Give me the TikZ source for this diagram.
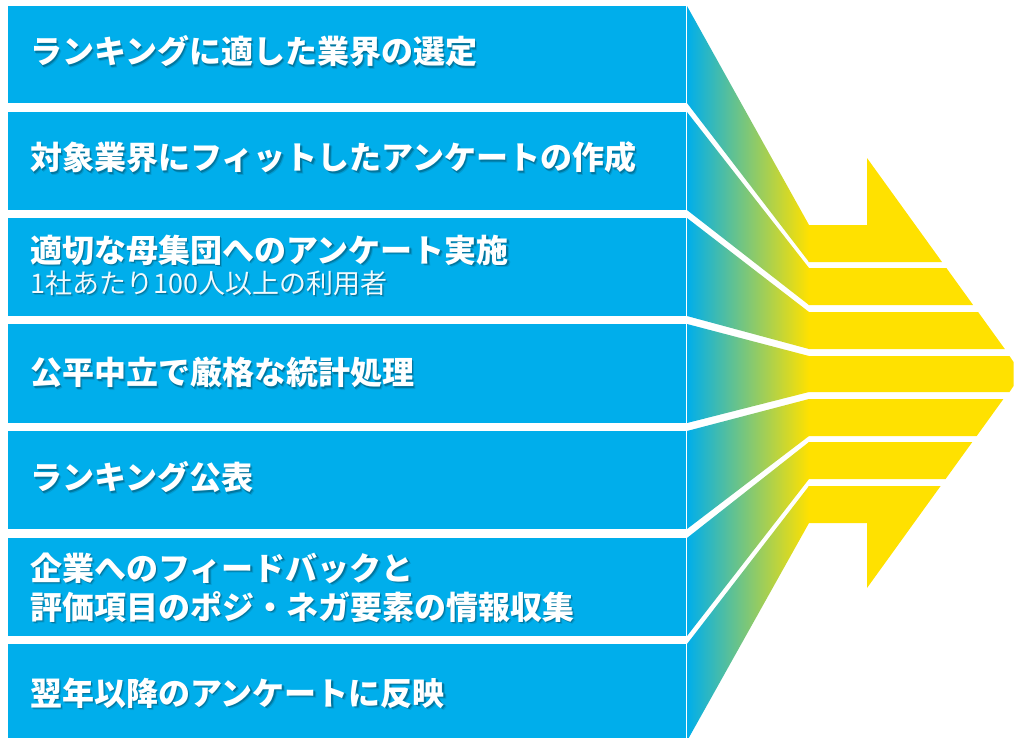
\documentclass[tikz,border=0pt]{standalone}
\usepackage{fontspec}
\newfontfamily\jp{Noto Sans CJK JP}
\definecolor{boxblue}{HTML}{00AEEB}
\definecolor{arrowyellow}{HTML}{FFE100}
\tikzset{
  stepbox/.style={fill=boxblue, draw=none, inner sep=0pt, anchor=north west, minimum width=677.5pt},
  titletext/.style={font=\jp\bfseries\fontsize{32}{38}\selectfont, text=white, anchor=base west, inner sep=0pt},
  subtext/.style={font=\jp\fontsize{27}{30}\selectfont, text=white!94!boxblue, anchor=base west, inner sep=0pt},
  shadowA/.style={text=black!80!boxblue, opacity=0.30, xshift=1.5pt, yshift=-1.5pt},
  shadowB/.style={text=black!80!boxblue, opacity=0.14, xshift=2.7pt, yshift=-2.7pt},
  funnelpart/.style={left color=boxblue, right color=arrowyellow},
  arrowpart/.style={fill=arrowyellow, draw=none}
}
\newcommand\steptext[4]{%
  \node[#2, shadowB] at (30,#3) {#4};
  \node[#2, shadowA] at (30,#3) {#4};
  \node[#2] (#1) at (30,#3) {#4};}
\begin{document}
\begin{tikzpicture}[x=1pt,y=-1pt]
\useasboundingbox (0,0) rectangle (1014,737);
\clip (0,0) rectangle (1014,737);

% step boxes
\foreach \t/\h [count=\i] in {6/97,112/98,218/98,324/99,431/98,538/98,644/97}
  \node[stepbox, minimum height=\h pt] (box\i) at (8,\t) {};

% funnel (gradient part)
\shade[funnelpart]
  (687,6)--(809,225)--(809,262)--(687,103)--cycle
  (687,112)--(809,268)--(809,305)--(687,210)--cycle
  (687,218)--(809,312)--(809,349)--(687,316)--cycle
  (687,324)--(809,356)--(809,392)--(687,423)--cycle
  (687,431)--(809,399)--(809,436)--(687,529)--cycle
  (687,538)--(809,442)--(809,479)--(687,636)--cycle
  (687,644)--(809,486)--(809,523)--(687,741)--cycle;

% arrow (yellow part)
\fill[arrowpart] (808.5,225)--(867,225)--(867,158)--(942,262)--(808.5,262)--cycle;
\fill[arrowpart] (808.5,268)--(946.4,268)--(973.1,305)--(808.5,305)--cycle;
\fill[arrowpart] (808.5,312)--(978.1,312)--(1004.8,349)--(808.5,349)--cycle;
\fill[arrowpart] (808.5,356)--(1009.5,356)--(1013.5,362)--(1013.5,386)--(1009.5,392)--(808.5,392)--cycle;
\fill[arrowpart] (808.5,399)--(1003.4,399)--(976.7,436)--(808.5,436)--cycle;
\fill[arrowpart] (808.5,442)--(972.3,442)--(945.6,479)--(808.5,479)--cycle;
\fill[arrowpart] (808.5,486)--(940.6,486)--(867,588)--(867,523)--(808.5,523)--cycle;

% texts
\steptext{t1}{titletext}{63.5}{ランキングに適した業界の選定}
\steptext{t2}{titletext}{169.5}{対象業界にフィットしたアンケートの作成}
\steptext{t3}{titletext}{262}{適切な母集団へのアンケート実施}
\steptext{t3s}{subtext}{293}{1社あたり100人以上の利用者}
\steptext{t4}{titletext}{384.5}{公平中立で厳格な統計処理}
\steptext{t5}{titletext}{489.5}{ランキング公表}
\steptext{t6a}{titletext}{580}{企業へのフィードバックと}
\steptext{t6b}{titletext}{619}{評価項目のポジ・ネガ要素の情報収集}
\steptext{t7}{titletext}{705}{翌年以降のアンケートに反映}
\end{tikzpicture}
\end{document}
